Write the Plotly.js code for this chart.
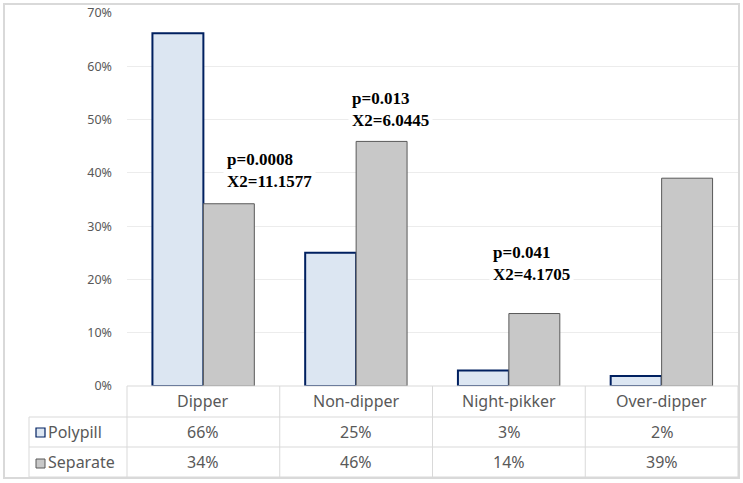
<!DOCTYPE html>
<html>
<head>
<meta charset="utf-8">
<script src="https://cdn.plot.ly/plotly-3.0.1.min.js"></script>
<style>html,body{margin:0;padding:0;background:#fff;}#chart{width:743px;height:483px;}</style>
</head>
<body>
<div id="chart"></div>
<script>
// ---- data ----
var categories = ['Dipper', 'Non-dipper', 'Night-pikker', 'Over-dipper'];
var polypill = [66.2, 25.0, 2.9, 1.9];
var separate = [34.2, 45.9, 13.6, 39.0];
var seriesNames = ['Polypill', 'Separate'];
var pLabels = ['p=0.0008', 'p=0.013', 'p=0.041'];
var chiLabels = ['X2=11.1577', 'X2=6.0445', 'X2=4.1705'];
var statX = [0.436, 1.222, 2.145];   // category-axis positions of the stat boxes
var statY = [40.5, 51.8, 22.9];      // value-axis positions of the stat boxes
var yTicks = [0, 10, 20, 30, 40, 50, 60, 70];
var yTickText = ['0%', '10%', '20%', '30%', '40%', '50%', '60%', '70%'];

// ---- style ----
var polyFill = '#dce6f2', polyLine = '#002060';
var sepFill = '#c8c8c8', sepLine = '#595959';
var gridCol = '#d9d9d9', textCol = '#595959';
var sansFont = '"Noto Sans", "Open Sans", sans-serif';

var W = 743, H = 483;
var L = 127, R = 5, T = 13, B = 97;
var pw = W - L - R, ph = H - T - B;
function px(x) { return (x - L) / pw; }
function py(y) { return (H - B - y) / ph; }

var traces = [
  { type: 'bar', name: seriesNames[0], x: categories, y: polypill,
    marker: { color: polyFill, line: { color: polyLine, width: 2 } }, hoverinfo: 'x+y' },
  { type: 'bar', name: seriesNames[1], x: categories, y: separate,
    marker: { color: sepFill, line: { color: sepLine, width: 1 } }, hoverinfo: 'x+y' }
];

var rowY = [py(401.5), py(432), py(462)];
var cellFont = { family: sansFont, size: 16, color: textCol };
var annotations = [];
// header row and cell values
categories.forEach(function (c, i) {
  annotations.push({ xref: 'x', yref: 'paper', x: c, y: rowY[0], text: c, showarrow: false,
    font: cellFont, xanchor: 'center', yanchor: 'middle' });
  annotations.push({ xref: 'x', yref: 'paper', x: c, y: rowY[1], text: Math.round(polypill[i]) + '%', showarrow: false,
    font: cellFont, xanchor: 'center', yanchor: 'middle' });
  annotations.push({ xref: 'x', yref: 'paper', x: c, y: rowY[2], text: Math.round(separate[i]) + '%', showarrow: false,
    font: cellFont, xanchor: 'center', yanchor: 'middle' });
});
// row labels
seriesNames.forEach(function (n, i) {
  annotations.push({ xref: 'paper', yref: 'paper', x: px(46), y: rowY[i + 1], text: n, showarrow: false,
    font: cellFont, xanchor: 'left', yanchor: 'middle', borderpad: 1 });
});
// statistics
pLabels.forEach(function (p, i) {
  annotations.push({ xref: 'x', yref: 'y', x: statX[i], y: statY[i],
    text: '<b>' + p + '</b><br><b>' + chiLabels[i] + '</b>', showarrow: false, align: 'left',
    font: { family: '"Liberation Serif", "Times New Roman", serif', size: 17, color: '#000' },
    bgcolor: '#ffffff', borderpad: 3, xanchor: 'center', yanchor: 'middle' });
});

var ln = { color: gridCol, width: 1 };
var shapes = [
  // outer chart border
  { type: 'rect', xref: 'paper', yref: 'paper', x0: px(4), x1: px(739), y0: py(4), y1: py(478),
    line: { color: gridCol, width: 2 }, fillcolor: 'rgba(0,0,0,0)', layer: 'below' },
  // table horizontal lines
  { type: 'line', xref: 'paper', yref: 'paper', x0: px(127), x1: px(738), y0: py(386), y1: py(386), line: ln },
  { type: 'line', xref: 'paper', yref: 'paper', x0: px(29), x1: px(738), y0: py(417), y1: py(417), line: ln },
  { type: 'line', xref: 'paper', yref: 'paper', x0: px(29), x1: px(738), y0: py(447), y1: py(447), line: ln },
  { type: 'line', xref: 'paper', yref: 'paper', x0: px(29), x1: px(738), y0: py(477), y1: py(477), line: ln },
  // first-column left edge
  { type: 'line', xref: 'paper', yref: 'paper', x0: px(29), x1: px(29), y0: py(417), y1: py(477), line: ln },
  // legend keys
  { type: 'rect', xref: 'paper', yref: 'paper', x0: px(36), x1: px(45), y0: py(428), y1: py(437),
    fillcolor: polyFill, line: { color: polyLine, width: 1.2 } },
  { type: 'rect', xref: 'paper', yref: 'paper', x0: px(36), x1: px(45), y0: py(459), y1: py(468),
    fillcolor: sepFill, line: { color: sepLine, width: 1 } }
];
// vertical column lines at category boundaries (0, 1/4, ..., 1 of the plot width)
for (var k = 0; k <= categories.length; k++) {
  shapes.push({ type: 'line', xref: 'paper', yref: 'paper', x0: k / categories.length, x1: k / categories.length,
    y0: py(386), y1: py(477), line: ln });
}

var layout = {
  width: W, height: H,
  margin: { l: L, r: R, t: T, b: B, pad: 0 },
  paper_bgcolor: '#ffffff', plot_bgcolor: '#ffffff',
  showlegend: false,
  barmode: 'group', bargap: 0.333, bargroupgap: 0,
  font: { family: sansFont, color: textCol },
  xaxis: { type: 'category', range: [-0.5, 3.5], showticklabels: false, showgrid: false,
    zeroline: false, showline: false, ticks: '' },
  yaxis: { range: [0, 70], tickmode: 'array', tickvals: yTicks, ticktext: yTickText,
    showgrid: true, gridcolor: '#ececec', gridwidth: 1,
    zeroline: false, showline: false, ticks: '', ticklabelstandoff: 14,
    tickfont: { family: sansFont, size: 12.5, color: textCol } },
  annotations: annotations,
  shapes: shapes
};

Plotly.newPlot('chart', traces, layout, { displayModeBar: false, staticPlot: true });
</script>
</body>
</html>
